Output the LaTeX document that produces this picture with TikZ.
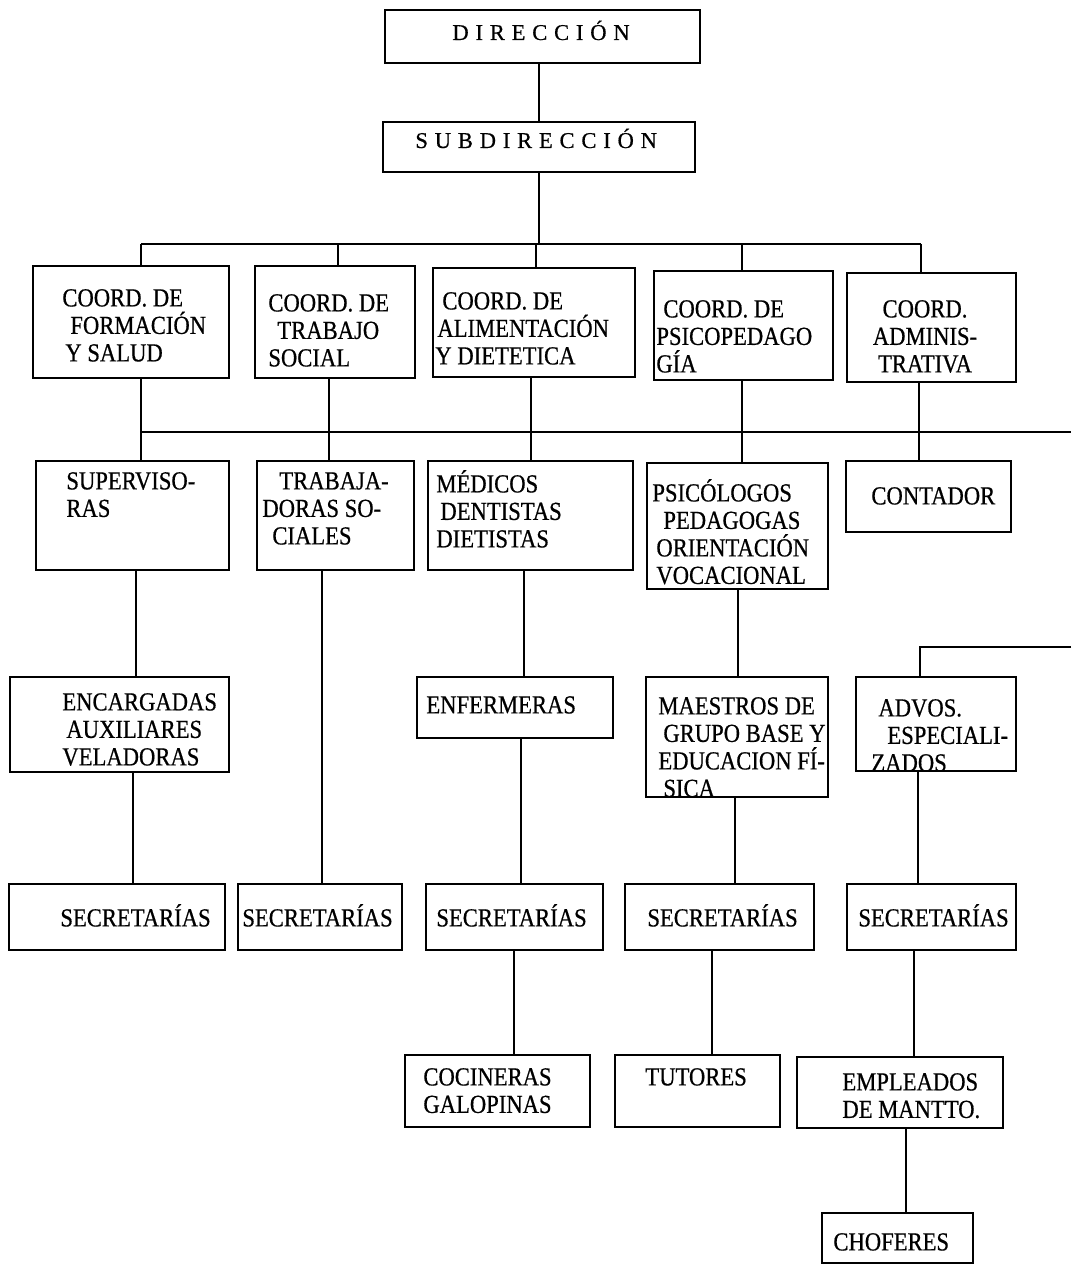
\documentclass[tikz,border=0pt]{standalone}
\usepackage{fontspec}
\setmainfont{Liberation Serif}
\newfontfamily\orgfont[FakeStretch=0.87, FakeBold=0.6]{Liberation Serif}
\newfontfamily\headfont[LetterSpace=30, FakeBold=0.5]{Liberation Serif}
\usetikzlibrary{fit}
\newcommand{\topstrut}{\rule{0pt}{12.5pt}}
\tikzset{
  box/.style={draw, line width=1.3pt, inner sep=0pt},
  conn/.style={line width=1.1pt},
  txt/.style={anchor=north west, yshift=12.5pt, inner sep=0pt, align=left,
    font=\orgfont\fontsize{13}{13.75}\selectfont},
  head/.style={anchor=base west, inner sep=0pt, font=\headfont\fontsize{11.3}{13}\selectfont},
}
\begin{document}
\begin{tikzpicture}[x=0.5pt, y=-0.5pt]
  \useasboundingbox (0,0) rectangle (1071,1267);
  % top
  \node[box, fit={(385,10) (700,63)}] (dir) {};
  \node[head] (dir-t) at (452,40) {DIRECCIÓN};
  \node[box, fit={(383,122) (695,172)}] (subdir) {};
  \node[head] (subdir-t) at (415,148) {SUBDIRECCIÓN};
  % coordinaciones
  \node[box, fit={(33,266) (229,378)}] (cfs) {};
  \node[txt] (cfs-t) at (62,306) {\topstrut COORD. DE\\\hspace*{4pt}FORMACIÓN\\\hspace*{1.5pt}Y SALUD};
  \node[box, fit={(255,266) (415,378)}] (cts) {};
  \node[txt] (cts-t) at (268,311) {\topstrut COORD. DE\\\hspace*{4.5pt}TRABAJO\\SOCIAL};
  \node[box, fit={(433,268) (635,377)}] (cal) {};
  \node[txt] (cal-t) at (435,309) {\topstrut\hspace*{3.5pt}COORD. DE\\\hspace*{1pt}ALIMENTACIÓN\\Y DIETETICA};
  \node[box, fit={(654,271) (833,380)}] (cps) {};
  \node[txt] (cps-t) at (656,317) {\topstrut\hspace*{3.5pt}COORD. DE\\PSICOPEDAGO\\GÍA};
  \node[box, fit={(847,273) (1016,382)}] (cadm) {};
  \node[txt, anchor=north, align=center] (cadm-t) at (925,317) {\topstrut COORD.\\ADMINIS-\\TRATIVA};
  % tercer nivel
  \node[box, fit={(36,461) (229,570)}] (sup) {};
  \node[txt] (sup-t) at (66,489) {\topstrut SUPERVISO-\\RAS};
  \node[box, fit={(257,461) (414,570)}] (trab) {};
  \node[txt] (trab-t) at (262,489) {\topstrut\hspace*{8.5pt}TRABAJA-\\DORAS SO-\\\hspace*{5pt}CIALES};
  \node[box, fit={(428,461) (633,570)}] (med) {};
  \node[txt] (med-t) at (436,492) {\topstrut MÉDICOS\\\hspace*{2pt}DENTISTAS\\DIETISTAS};
  \node[box, fit={(647,463) (828,589)}] (psi) {};
  \node[txt] (psi-t) at (652,501) {\topstrut PSICÓLOGOS\\\hspace*{5.5pt}PEDAGOGAS\\\hspace*{2pt}ORIENTACIÓN\\\hspace*{2pt}VOCACIONAL};
  \node[box, fit={(846,461) (1011,532)}] (cont) {};
  \node[txt] (cont-t) at (871,504) {\topstrut CONTADOR};
  % cuarto nivel
  \node[box, fit={(10,677) (229,772)}] (enc) {};
  \node[txt] (enc-t) at (62,710) {\topstrut ENCARGADAS\\\hspace*{2pt}AUXILIARES\\VELADORAS};
  \node[box, fit={(417,677) (613,738)}] (enf) {};
  \node[txt] (enf-t) at (426,713) {\topstrut ENFERMERAS};
  \node[box, fit={(646,677) (828,797)}] (mae) {};
  \node[txt] (mae-t) at (658,714) {\topstrut MAESTROS DE\\\hspace*{2.5pt}GRUPO BASE Y\\EDUCACION FÍ-\\\hspace*{2.5pt}SICA};
  \node[box, fit={(856,677) (1016,771)}] (advos) {};
  \node[txt] (advos-t) at (871,716) {\topstrut\hspace*{3.5pt}ADVOS.\\\hspace*{8pt}ESPECIALI-\\ZADOS};
  % secretarias
  \node[box, fit={(9,884) (225,950)}] (sec1) {};
  \node[txt] (sec1-t) at (60,926) {\topstrut SECRETARÍAS};
  \node[box, fit={(238,884) (402,950)}] (sec2) {};
  \node[txt] (sec2-t) at (242,926) {\topstrut SECRETARÍAS};
  \node[box, fit={(426,884) (603,950)}] (sec3) {};
  \node[txt] (sec3-t) at (436,926) {\topstrut SECRETARÍAS};
  \node[box, fit={(625,884) (814,950)}] (sec4) {};
  \node[txt] (sec4-t) at (647,926) {\topstrut SECRETARÍAS};
  \node[box, fit={(847,884) (1016,950)}] (sec5) {};
  \node[txt] (sec5-t) at (858,926) {\topstrut SECRETARÍAS};
  % ultimo nivel
  \node[box, fit={(405,1055) (590,1127)}] (coc) {};
  \node[txt] (coc-t) at (423,1085) {\topstrut COCINERAS\\GALOPINAS};
  \node[box, fit={(615,1055) (780,1127)}] (tut) {};
  \node[txt] (tut-t) at (645,1085) {\topstrut TUTORES};
  \node[box, fit={(797,1057) (1003,1128)}] (emp) {};
  \node[txt] (emp-t) at (842,1090) {\topstrut EMPLEADOS\\DE MANTTO.};
  \node[box, fit={(822,1213) (973,1263)}] (cho) {};
  \node[txt] (cho-t) at (833,1250) {\topstrut CHOFERES};
  % lineas
  \coordinate (b1w) at (141,244);
  \coordinate (b1e) at (921,244);
  \coordinate (b2w) at (141,432);
  \coordinate (b2e) at (1071,432);
  \coordinate (edge) at (1071,647);
  \draw[conn] (dir.south -| subdir.north) -- (subdir.north);
  \draw[conn] (subdir.south) -- (subdir.south |- b1w);
  \draw[conn] (b1w) -- (b1e);
  \draw[conn] (b2w) -- (b2e);
  \foreach \xx/\nn in {141/cfs, 338/cts, 536/cal, 742/cps, 921/cadm}
    \draw[conn] (\xx,244) -- (\nn.north -| \xx,0);
  \foreach \xx/\aa/\bb in {141/cfs/sup, 329/cts/trab, 531/cal/med, 742/cps/psi, 919/cadm/cont,
      136/sup/enc, 322/trab/sec2, 524/med/enf, 738/psi/mae,
      133/enc/sec1, 521/enf/sec3, 735/mae/sec4, 918/advos/sec5,
      514/sec3/coc, 712/sec4/tut, 914/sec5/emp, 906/emp/cho}
    \draw[conn] (\aa.south -| \xx,0) -- (\bb.north -| \xx,0);
  \draw[conn] (edge) -| (advos.north -| 920,0);
\end{tikzpicture}
\end{document}
